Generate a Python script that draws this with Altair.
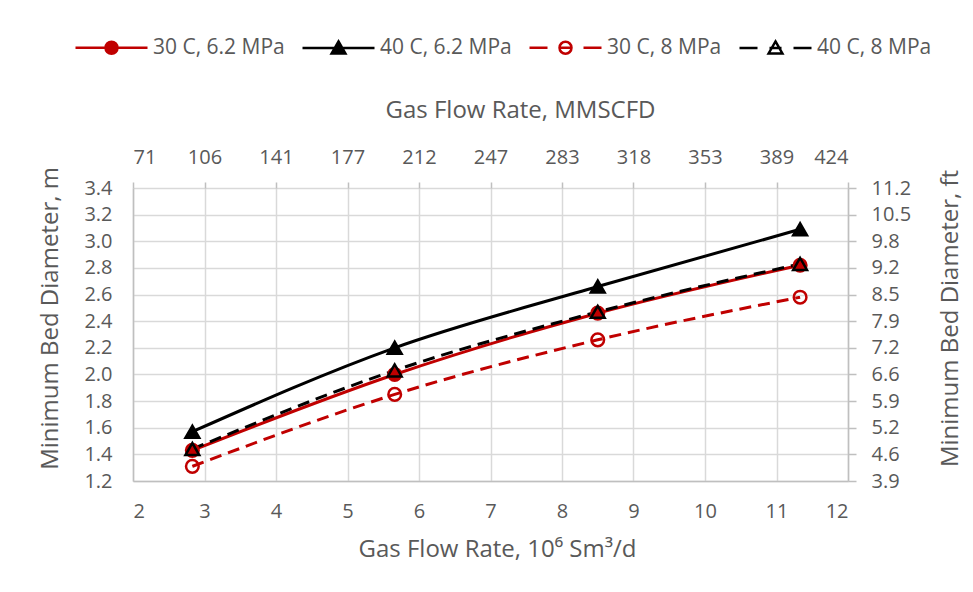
import altair as alt
import pandas as pd

# ---- data ----
flow = [2.83, 5.66, 8.50, 11.33]  # 10^6 Sm3/d
series = ["30 C, 6.2 MPa", "40 C, 6.2 MPa", "30 C, 8 MPa", "40 C, 8 MPa"]
d_30_62 = [1.43, 2.00, 2.46, 2.82]
d_40_62 = [1.57, 2.20, 2.66, 3.09]
d_30_8 = [1.31, 1.85, 2.26, 2.58]
d_40_8 = [1.44, 2.03, 2.47, 2.83]
x_ticks = [2, 3, 4, 5, 6, 7, 8, 9, 10, 11, 12]
y_ticks = [1.2, 1.4, 1.6, 1.8, 2.0, 2.2, 2.4, 2.6, 2.8, 3.0, 3.2, 3.4]

values = [d_30_62, d_40_62, d_30_8, d_40_8]
rows = []
for s, vals in zip(series, values):
    for x, y in zip(flow, vals):
        rows.append({"flow": x, "diam": y, "series": s})
df = pd.DataFrame(rows)

RED = "#C00000"
BLK = "#000000"
colors = [RED, BLK, RED, BLK]
fills = [RED, BLK, "transparent", "transparent"]
circle = "M1,0A1,1 0 1,1 -1,0A1,1 0 1,1 1,0Z"
tri = "M0,-1.1L1.15,0.9L-1.15,0.9Z"
legend_paths = [
    "M-6,0H6 " + circle,
    "M-6,0H6 " + tri,
    "M-6,0H-3 M-1,0H1 M3,0H6 " + circle,
    "M-6,0H-3 M-1,0H1 M3,0H6 " + tri,
]

FONT = "Open Sans"
TXT = "#595959"
GRID = "#D9D9D9"
DOM = "#BFBFBF"

xscale = alt.Scale(domain=[2, 12], nice=False, zero=False)
yscale = alt.Scale(domain=[1.2, 3.4], nice=False, zero=False)
color_scale = alt.Scale(domain=series, range=colors)
fill_scale = alt.Scale(domain=series, range=fills)

base = alt.Chart(df)

leg = alt.Legend(orient="none", direction="horizontal", title=None, legendX=-62, legendY=-151,
                 labelFont=FONT, labelFontSize=21, labelColor=TXT, symbolSize=144,
                 symbolStrokeWidth=2.5, symbolOffset=30, labelOffset=31, columnPadding=12,
                 labelLimit=300)

# legend + secondary axes layer (no marks drawn)
legend_layer = base.transform_filter("false").mark_point(opacity=1).encode(
    x=alt.X("flow:Q", scale=xscale,
            axis=alt.Axis(values=x_ticks, orient="top", grid=False, domain=False,
                          ticks=True, tickSize=6, tickColor=DOM, tickWidth=1.5, labelPadding=15,
                          labelExpr="format(round(datum.value / 0.0283), 'd')",
                          title="Gas Flow Rate, MMSCFD", titlePadding=25, titleX=387)),
    y=alt.Y("diam:Q", scale=yscale,
            axis=alt.Axis(values=y_ticks, orient="right", grid=False, domain=True, domainColor=DOM,
                          ticks=True, tickSize=8, tickColor=DOM, tickWidth=1.5, labelPadding=15,
                          labelExpr="format(datum.value * 3.28084, '.1f')",
                          title="Minimum Bed Diameter, ft", titleAngle=270, titlePadding=52,
                          titleY=130)),
    color=alt.Color("series:N", scale=color_scale, legend=leg),
    fill=alt.Fill("series:N", scale=fill_scale, legend=leg),
    shape=alt.Shape("series:N", scale=alt.Scale(domain=series, range=legend_paths), legend=leg),
)

solid_lines = base.transform_filter(
    alt.FieldOneOfPredicate(field="series", oneOf=[series[0], series[1]])
).mark_line(strokeWidth=3, interpolate="monotone").encode(
    x=alt.X("flow:Q", scale=xscale,
            axis=alt.Axis(values=x_ticks, orient="bottom", grid=True, gridColor=GRID,
                          domainColor=DOM, ticks=False, tickSize=0, labelPadding=20,
                          title="Gas Flow Rate, 10\u2076 Sm\u00b3/d", titlePadding=16, titleX=364)),
    y=alt.Y("diam:Q", scale=yscale,
            axis=alt.Axis(values=y_ticks, format=".1f", orient="left", grid=True, gridColor=GRID,
                          domainColor=DOM, ticks=False, tickSize=0, labelPadding=21,
                          title="Minimum Bed Diameter, m", titlePadding=21, titleY=130)),
    color=alt.Color("series:N", scale=color_scale, legend=None),
    detail="series:N",
)

dashed_lines = base.transform_filter(
    alt.FieldOneOfPredicate(field="series", oneOf=[series[2], series[3]])
).mark_line(strokeWidth=3, interpolate="monotone", strokeDash=[12, 7]).encode(
    x=alt.X("flow:Q", scale=xscale, axis=None),
    y=alt.Y("diam:Q", scale=yscale, axis=None),
    color=alt.Color("series:N", scale=color_scale, legend=None),
    detail="series:N",
)

circles = base.transform_filter(
    alt.FieldOneOfPredicate(field="series", oneOf=[series[0], series[2]])
).mark_point(shape="circle", size=160, strokeWidth=2.5, opacity=1).encode(
    x=alt.X("flow:Q", scale=xscale, axis=None),
    y=alt.Y("diam:Q", scale=yscale, axis=None),
    color=alt.Color("series:N", scale=color_scale, legend=None),
    fill=alt.Fill("series:N", scale=fill_scale, legend=None),
)

triangles = base.transform_filter(
    alt.FieldOneOfPredicate(field="series", oneOf=[series[1], series[3]])
).mark_point(shape="triangle-up", size=190, strokeWidth=2.5, opacity=1).encode(
    x=alt.X("flow:Q", scale=xscale, axis=None),
    y=alt.Y("diam:Q", scale=yscale, axis=None),
    color=alt.Color("series:N", scale=color_scale, legend=None),
    fill=alt.Fill("series:N", scale=fill_scale, legend=None),
)

chart = alt.layer(legend_layer, solid_lines, dashed_lines, circles, triangles).resolve_axis(
    x="independent", y="independent"
).properties(
    width=715, height=293,
    autosize=alt.AutoSizeParams(type="none"),
    padding={"left": 125, "top": 180, "right": 116, "bottom": 95},
).configure_axis(
    labelFont=FONT, labelFontSize=20, labelColor=TXT,
    titleFont=FONT, titleFontSize=24, titleColor=TXT, titleFontWeight="normal",
    domainWidth=1.5, gridWidth=1.5,
).configure_view(stroke=None)

chart.save("out.html", embed_options={"renderer": "svg", "actions": False})
